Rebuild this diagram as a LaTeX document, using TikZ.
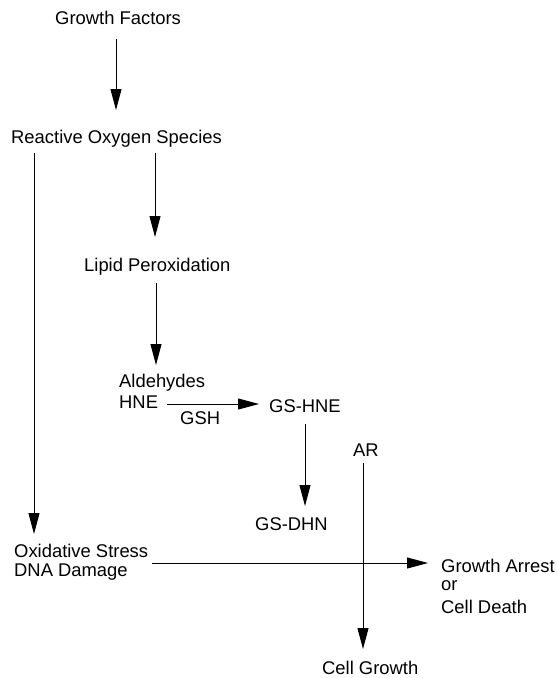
\documentclass[tikz,border=0pt]{standalone}
\usepackage{fontspec}
\setmainfont{Liberation Sans}
\usepackage{tikz}
\usetikzlibrary{arrows.meta,calc}

\begin{document}
\begin{tikzpicture}[
 x=1pt,y=-1pt,
 font=\fontsize{18.4}{20}\selectfont,
 t/.style={anchor=base west,inner sep=0pt,align=left},
 arr/.style={-{Triangle[length=21pt,width=11pt]},line width=0.9pt}
]
\useasboundingbox (0,0) rectangle (557,678);
\node[t] (gf) at (55,24) {Growth Factors};
\node[t] (ros) at (11,143) {Reactive Oxygen Species};
\node[t] (lp) at (84,271) {Lipid Peroxidation};
\node[t] (ald) at (119,408) {Aldehydes\\[1pt]HNE};
\node[t] (gshne) at (269,412) {GS-HNE};
\node[t] (gsdhn) at (255,530) {GS-DHN};
\node[t] (ar) at (353,456) {AR};
\node[t] (ox) at (14,576) {Oxidative Stress\\[-1pt]DNA Damage};
\node[t] (ga) at (441,613) {Growth Arrest\\[-2pt]or\\[3pt]Cell Death};
\node[t] (cg) at (322,674) {Cell Growth};

\draw[arr] ($(gf.base west)+(61,15)$) -- ($(ros.base west)+(105,-33)$);
\draw[arr] ($(ros.base west)+(23,10)$) -- ($(ox.base west)+(20,-42)$);
\draw[arr] ($(ros.base west)+(144,10)$) -- ($(lp.base west)+(71,-34)$);
\draw[arr] ($(lp.base west)+(72,12)$) -- ($(ald.base west)+(37,-43)$);
\draw[arr] ($(ald.base west)+(48,-4)$) -- node[pos=0.36,anchor=base,yshift=-20pt]{GSH} ($(gshne.base west)+(-10,-8)$);
\draw[arr] ($(gshne.base west)+(36,12)$) -- ($(gsdhn.base west)+(50,-24)$);
\draw[arr] ($(ar.base west)+(10,7)$) -- ($(cg.base west)+(41,-25)$);
\draw[arr] ($(ox.base west)+(138,-13)$) -- ($(ga.base west)+(-13,-50)$);
\end{tikzpicture}
\end{document}
